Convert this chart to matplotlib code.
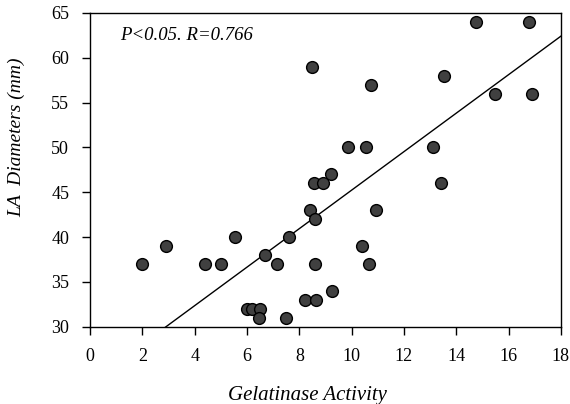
import numpy as np
import matplotlib
matplotlib.use("Agg")
import matplotlib.pyplot as plt

########## Data ################################
gelatinase = [2.0, 2.9, 4.4, 5.0, 5.55, 6.0, 6.2, 6.5, 6.45, 6.7, 7.15, 7.6, 7.5,
              8.2, 8.65, 8.4, 8.6, 8.6, 8.5, 8.55, 8.9, 9.2, 9.25, 9.85, 10.4,
              10.65, 10.55, 10.75, 10.95, 13.1, 13.4, 13.55, 14.75, 15.5, 16.8, 16.9]
la_diameter = [37, 39, 37, 37, 40, 32, 32, 32, 31, 38, 37, 40, 31,
               33, 33, 43, 42, 37, 59, 46, 46, 47, 34, 50, 39,
               37, 50, 57, 43, 50, 46, 58, 64, 56, 64, 56]

# regression line as printed on the chart
fit_intercept = 23.78
fit_slope = 2.146
stats_text = "P<0.05. R=0.766"

x_ticks = [0, 2, 4, 6, 8, 10, 12, 14, 16, 18]
y_ticks = [30, 35, 40, 45, 50, 55, 60, 65]

serif = ["Liberation Serif", "DejaVu Serif"]

fig = plt.figure(figsize=(5.7, 4.04), dpi=100)
ax = fig.add_axes([0.158, 0.191, 0.826, 0.777])

# fitted line, clipped to the axes
xs = np.array([0, 18])
ax.plot(xs, fit_intercept + fit_slope * xs, color="black", linewidth=1.0)

ax.scatter(gelatinase, la_diameter, s=72, facecolor="#404040",
           edgecolor="black", linewidth=1.0, zorder=3)

ax.set_xlim(0, 18)
ax.set_ylim(30, 65)
ax.set_xticks(x_ticks)
ax.set_yticks(y_ticks)
ax.tick_params(direction="out", length=6, width=1, colors="black")
ax.tick_params(axis="x", pad=9)
ax.tick_params(axis="y", pad=9)
for lab in ax.get_xticklabels() + ax.get_yticklabels():
    lab.set_family(serif)
    lab.set_fontsize(13)
for sp in ax.spines.values():
    sp.set_linewidth(1.0)

ax.set_xlabel("Gelatinase Activity", family=serif, style="italic", fontsize=15)
ax.set_ylabel("LA  Diameters (mm)", family=serif, style="italic", fontsize=14)
ax.xaxis.set_label_coords(0.461, -0.188)
ax.yaxis.set_label_coords(-0.138, 0.605)

ax.text(0.064, 0.955, stats_text, transform=ax.transAxes, family=serif,
        style="italic", fontsize=13.5, va="top", ha="left")

fig.savefig("out.png", dpi=100)
